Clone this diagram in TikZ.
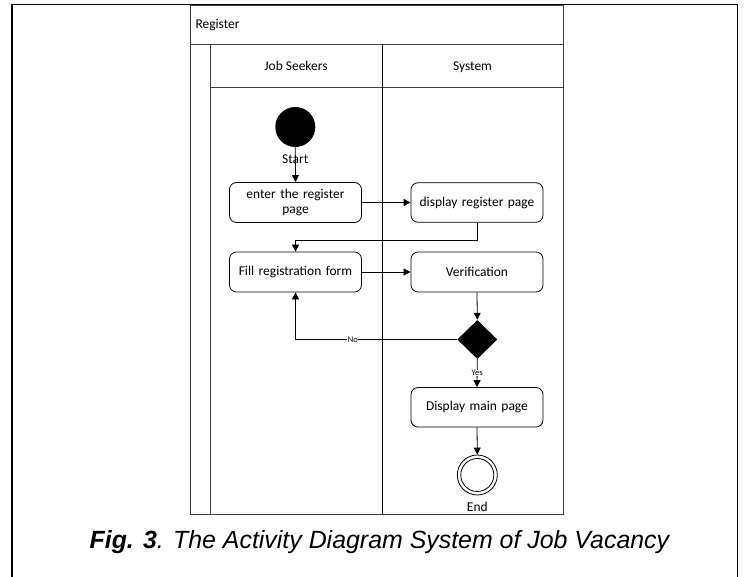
\documentclass[tikz,border=0pt]{standalone}
\usepackage{fontspec}
\setmainfont{Carlito}
\newfontfamily\capfont{Liberation Sans}
\usetikzlibrary{shapes.geometric,arrows.meta}
\begin{document}
\begin{tikzpicture}[x=1bp,y=-1bp,
  every node/.style={font=\fontsize{13.5}{15}\selectfont},
  act/.style={draw, rounded corners=7bp, line width=0.8bp, minimum width=132bp, minimum height=40bp, align=center, text width=124bp, inner sep=2pt},
  pool/.style={draw=black!75, line width=1bp},
  flow/.style={-{Triangle[length=7bp,width=7bp]}, line width=0.8bp},
  small/.style={font=\fontsize{8.5}{9}\selectfont}
]
\useasboundingbox (0,0) rectangle (744,577);
% outer frame
\draw[line width=1.5bp] (12,577) -- (12,4.5) -- (737.5,4.5) -- (737.5,577);
% pool
\draw[pool] (190,6) rectangle (563,514);
\draw[pool] (190,44.5) -- (563,44.5);
\draw[pool] (210,88) -- (563,88);
\draw[pool] (210,44.5) -- (210,514);
\draw[pool, black] (382,44.5) -- (382,514);
\node[anchor=base west] (reg) at (192,28.5) {Register};
\node[anchor=base] (js) at (296,71) {Job Seekers};
\node[anchor=base] (sys) at (472.5,71) {System};
% start
\node[circle, fill=black, minimum size=40bp, inner sep=0] (start) at (295.3,127) {};
\node (startlbl) at (295.3,159) {Start};
% activities
\node[act] (enter) at (295.5,202.5) {enter the register\\page};
\node[act, minimum height=39.5bp] (disp) at (477,202.5) {display register page};
\node[act] (fill) at (295.5,272) {Fill registration form};
\node[act] (ver) at (477,272) {Verification};
\node[diamond, fill=black, minimum width=40bp, minimum height=39bp, inner sep=0] (dec) at (477.3,339.5) {};
\node[act, minimum height=39.5bp] (main) at (477,407.3) {Display main page};
\node[circle, draw, line width=0.8bp, minimum size=40bp, inner sep=0] (end) at (477.3,475) {};
\node[circle, draw, line width=0.8bp, minimum size=33bp, inner sep=0] (endin) at (477.3,475) {};
\node (endlbl) at (477.3,507) {End};
% flows
\draw[flow] (start.south) -- (enter.north);
\draw[flow] (enter.east) -- (disp.west);
\draw[flow] (disp.south) -- (477,240) -| (fill.north);
\draw[flow] (fill.east) -- (ver.west);
\draw[flow] (ver.south) -- (dec.north);
\draw[flow] (dec.west) -- node[small, fill=white, inner sep=0.5bp, pos=0.645] {No} (295.5,339.5) -- (fill.south);
\draw[flow] (dec.south) -- node[small, fill=white, inner sep=0.5bp, pos=0.5] {Yes} (main.north);
\draw[flow] (main.south) -- (end.north);
% caption
\node[font=\capfont\fontsize{25}{28}\selectfont] (cap) at (380,542) {\textbf{\textit{Fig. 3}}\textit{. The Activity Diagram System of Job Vacancy}};
\end{tikzpicture}
\end{document}
